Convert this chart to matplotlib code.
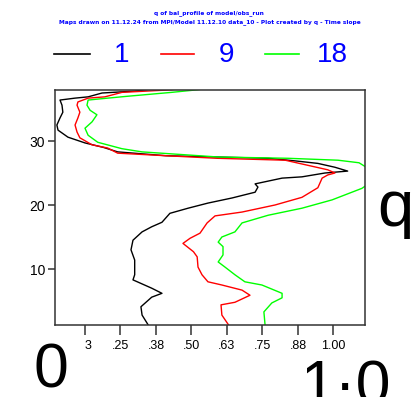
import matplotlib
matplotlib.use("Agg")
import matplotlib.pyplot as plt
from matplotlib.lines import Line2D

# profiles of q for three runs (x = q value, y = level)
y_1 = [1.3, 2.8, 4.1, 5.6, 6.2, 7.0, 8.3, 9.1, 11.4, 13.0, 14.5, 15.8, 16.6, 17.3,
       18.7, 19.5, 20.3, 21.1, 22.0, 22.8, 23.3, 24.2, 24.4, 25.0, 25.3, 25.9, 26.5,
       26.9, 27.3, 27.7, 28.3, 29.0, 29.7, 30.6, 31.7, 32.5, 33.6, 34.5, 35.6, 36.4,
       36.7, 36.9, 37.5, 37.8, 38.0, 38.5]
q_1 = [0.347, 0.326, 0.322, 0.36, 0.396, 0.36, 0.294, 0.30, 0.30, 0.287, 0.294, 0.326,
       0.36, 0.396, 0.424, 0.488, 0.558, 0.643, 0.724, 0.734, 0.724, 0.819, 0.889, 0.97,
       1.05, 1.005, 0.945, 0.864, 0.77, 0.41, 0.24, 0.19, 0.125, 0.065, 0.03, 0.026,
       0.037, 0.047, 0.044, 0.037, 0.09, 0.136, 0.185, 0.30, 0.34, 0.40]

y_9 = [1.3, 2.8, 4.4, 4.8, 5.9, 6.7, 7.5, 8.0, 9.1, 10.3, 11.9, 12.7, 14.0, 14.8, 15.6,
       17.2, 18.3, 18.9, 20.0, 21.2, 22.7, 24.2, 24.7, 25.0, 25.5, 26.3, 27.0, 27.3,
       27.7, 28.1, 28.9, 29.4, 30.5, 31.4, 32.5, 33.6, 34.5, 35.6, 36.1, 36.7, 36.9,
       37.6, 38.0, 38.5]
q_9 = [0.63, 0.607, 0.604, 0.653, 0.706, 0.678, 0.607, 0.558, 0.537, 0.523, 0.52, 0.507,
       0.47, 0.495, 0.53, 0.555, 0.583, 0.678, 0.794, 0.889, 0.945, 0.96, 0.98, 1.005,
       0.98, 0.90, 0.83, 0.59, 0.41, 0.24, 0.205, 0.15, 0.107, 0.097, 0.09, 0.10, 0.107,
       0.097, 0.10, 0.136, 0.195, 0.255, 0.43, 0.50]

y_18 = [1.3, 3.3, 4.7, 5.5, 6.2, 7.5, 8.0, 9.1, 10.3, 11.1, 12.2, 13.5, 14.2, 15.0, 15.8,
        17.2, 18.4, 19.5, 20.8, 22.6, 23.5, 25.5, 26.6, 27.0, 27.3, 27.5, 28.3, 28.8,
        29.8, 30.9, 32.0, 33.0, 34.1, 34.8, 35.6, 36.4, 36.7, 37.0, 37.6, 38.0, 38.5]
q_18 = [0.759, 0.755, 0.783, 0.819, 0.819, 0.748, 0.688, 0.653, 0.618, 0.594, 0.611,
        0.611, 0.594, 0.607, 0.653, 0.678, 0.77, 0.889, 0.995, 1.10, 1.13, 1.13, 1.09,
        1.016, 0.84, 0.594, 0.326, 0.255, 0.17, 0.136, 0.125, 0.15, 0.167, 0.143, 0.132,
        0.136, 0.205, 0.277, 0.43, 0.52, 0.60]

run_labels = ["1", "9", "18"]
run_colors = ["#000000", "#ff0000", "#00ff00"]

xtick_vals = [0.125, 0.25, 0.375, 0.5, 0.625, 0.75, 0.875, 1.0]
xtick_labels = ["3", ".25", ".38", ".50", ".63", ".75", ".88", "1.00"]
ytick_vals = [10, 20, 30]

fig = plt.figure(figsize=(4.17, 3.97), dpi=100)
ax = fig.add_axes([55/417, 72/397, 310/417, 235/397])

for q, y, c in zip([q_1, q_9, q_18], [y_1, y_9, y_18], run_colors):
    ax.plot(q, y, color=c, lw=1.0)

ax.set_xlim(0.0194, 1.111)
ax.set_ylim(1.25, 37.97)
ax.set_xticks(xtick_vals)
ax.set_xticklabels(xtick_labels, family="Liberation Sans", fontsize=9)
ax.get_xticklabels()[0].set_ha("left")
ax.set_yticks(ytick_vals)
ax.set_yticklabels([str(v) for v in ytick_vals], family="Liberation Sans", fontsize=10)
ax.tick_params(axis="x", length=7, width=1.1, color="#333333", pad=4)
ax.tick_params(axis="y", length=5, width=1.1, color="#333333", pad=2)
for s in ax.spines.values():
    s.set_color("#333333")
    s.set_linewidth(1.1)

# title (tiny, blue)
fig.text(209/417, 1 - 13/397, "q of bal_profile of model/obs_run", color="blue",
         fontsize=4.2, fontweight="bold", ha="center", va="center")
fig.text(210/417, 1 - 22/397,
         "Maps drawn on 11.12.24 from MPI/Model 11.12.10 data_10 - Plot created by q - Time slope",
         color="blue", fontsize=4.2, fontweight="bold", ha="center", va="center")

# legend row
leg_lines = [(54, 90), (161, 194), (265, 299)]
leg_text_x = [122, 227, 332]
for (x0, x1), tx, lab, c in zip(leg_lines, leg_text_x, run_labels, run_colors):
    fig.add_artist(Line2D([x0/417, x1/417], [1 - 54/397, 1 - 54/397], color=c, lw=1.2))
    fig.text(tx/417, 1 - 55/397, lab, color="blue", fontsize=20,
             family="Liberation Sans", ha="center", va="center")

# large annotations
fig.text(51/417, 1 - 387/397, "0", fontsize=45, family="Liberation Sans",
         ha="center", va="baseline")
fig.text(300/417, 1 - 404/397, "1·0", fontsize=45, family="Liberation Sans",
         ha="left", va="baseline")
fig.text(377/417, 1 - 226/397, "q", fontsize=47, family="Liberation Sans",
         ha="left", va="baseline")

fig.savefig("out.png", dpi=100)
